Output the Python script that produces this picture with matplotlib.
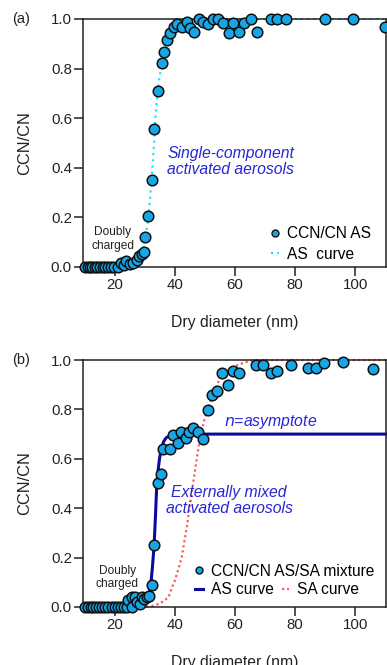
import matplotlib
matplotlib.use('Agg')
import matplotlib.pyplot as plt
from matplotlib.lines import Line2D
import numpy as np

plt.rcParams['font.family'] = ['Liberation Sans', 'DejaVu Sans']

# panel (a): pure AS
a_x = [10.0, 10.8, 11.6, 12.4, 13.2, 14.0, 14.9, 15.8, 16.7, 17.7, 18.7, 19.7,
       20.8, 21.9, 23.0, 23.7, 24.8, 25.9, 27.2, 28.1, 28.9, 29.7, 30.0, 31.1,
       32.2, 33.1, 34.4, 35.6, 36.4, 37.2, 38.3, 39.7, 40.8, 42.2, 43.9, 45.0,
       46.4, 48.0, 49.4, 51.1, 52.6, 54.2, 55.9, 57.9, 59.4, 61.4, 63.1, 65.2,
       67.2, 71.9, 74.1, 76.9, 90.0, 99.4, 110.0]
a_y = [0, 0, 0, 0, 0, 0, 0, 0, 0, 0, 0, 0,
       0.0, 0.016, 0.01, 0.023, 0.012, 0.016, 0.03, 0.043, 0.054, 0.059, 0.12, 0.204,
       0.349, 0.557, 0.711, 0.824, 0.866, 0.915, 0.942, 0.969, 0.98, 0.969, 0.989, 0.962,
       0.949, 1.0, 0.989, 0.98, 1.0, 1.0, 0.985, 0.942, 0.985, 0.949, 0.985, 1.0,
       0.949, 1.0, 1.0, 1.0, 1.0, 1.0, 0.969]

a_fit_x = [10, 20, 26, 27, 28, 29, 29.8, 30.5, 31.1, 31.8, 32.4, 33.0, 33.4, 34.0,
           34.6, 35.3, 35.8, 36.4, 37.0, 37.8, 38.8, 40.0, 41.7, 44, 110.5]
a_fit_y = [0, 0, 0.005, 0.015, 0.03, 0.06, 0.1, 0.15, 0.2, 0.3, 0.4, 0.5, 0.6, 0.68,
           0.75, 0.8, 0.86, 0.9, 0.925, 0.95, 0.97, 0.985, 0.995, 1.0, 1.0]

# panel (b): AS/SA mixture
b_x = [10.0, 10.9, 11.8, 12.7, 13.6, 14.6, 15.6, 16.6, 17.7, 18.8, 19.9, 21.0,
       22.1, 23.0, 23.9, 24.4, 25.6, 25.6, 26.7, 27.2, 28.3, 28.9, 29.7, 30.6,
       31.3, 32.2, 33.1, 34.2, 35.3, 36.1, 38.3, 39.4, 40.9, 42.0, 43.7, 44.8,
       46.1, 47.8, 49.4, 51.1, 52.4, 54.1, 55.6, 57.8, 59.2, 61.4, 67.0, 69.4,
       71.9, 74.1, 78.7, 84.2, 86.9, 89.7, 95.9, 105.9]
b_y = [0, 0, 0, 0, 0, 0, 0, 0, 0, 0, 0, 0,
       0, 0, 0.0, 0.03, 0.04, 0.0, 0.04, 0.02, 0.014, 0.04, 0.034, 0.04,
       0.045, 0.088, 0.25, 0.503, 0.54, 0.639, 0.639, 0.696, 0.662, 0.709, 0.686, 0.709,
       0.726, 0.709, 0.682, 0.797, 0.858, 0.874, 0.949, 0.899, 0.957, 0.949, 0.98, 0.98,
       0.949, 0.957, 0.98, 0.969, 0.969, 0.986, 0.993, 0.962]

as_fit_x = [10, 28, 29, 30, 31, 31.9, 32.5, 33.0, 33.5, 33.9, 34.4, 34.8, 35.3, 35.6,
            36.2, 37.0, 38.3, 40.0, 41.7, 110.5]
as_fit_y = [0, 0, 0.002, 0.008, 0.03, 0.088, 0.17, 0.25, 0.38, 0.5, 0.56, 0.6, 0.635, 0.65,
            0.67, 0.685, 0.694, 0.698, 0.7, 0.7]

sa_fit_x = [10, 30, 32, 34, 36, 37.8, 39, 40, 41, 42.2, 43, 44, 44.8, 46, 47.2, 48,
            49, 50, 51.1, 52, 53, 53.9, 55, 57.2, 60, 63, 66, 70, 110.5]
sa_fit_y = [0, 0, 0.003, 0.01, 0.022, 0.04, 0.08, 0.11, 0.15, 0.2, 0.26, 0.33, 0.4, 0.5,
            0.6, 0.66, 0.72, 0.77, 0.8, 0.84, 0.875, 0.9, 0.925, 0.95, 0.975, 0.99, 0.998,
            1.0, 1.0]

pt_color = '#16A6E8'
cyan = '#00E8F0'
navy = '#0A0A9E'
red = '#FF5A5A'
txt_blue = '#2626D8'

fig = plt.figure(figsize=(3.87, 6.65), dpi=100)
ax1 = fig.add_axes([83 / 387, 1 - 267 / 665, 303 / 387, 248 / 665])
ax2 = fig.add_axes([83 / 387, 1 - 607 / 665, 303 / 387, 247 / 665])

for ax in (ax1, ax2):
    ax.set_xlim(9.3, 110.3)
    ax.set_ylim(0, 1.0)
    ax.set_xticks([20, 40, 60, 80, 100])
    ax.set_yticks([0, 0.2, 0.4, 0.6, 0.8, 1.0])
    ax.set_yticklabels(['0.0', '0.2', '0.4', '0.6', '0.8', '1.0'])
    ax.tick_params(direction='out', length=6.5, width=1.1, pad=1.5, labelsize=10.8,
                   colors='#222222', top=False, right=False)
    for s in ax.spines.values():
        s.set_linewidth(1.1)
        s.set_color('#222222')
    ax.set_xlabel('Dry diameter (nm)', fontsize=11.3, color='#222222')
    ax.set_ylabel('CCN/CN', fontsize=11.8, color='#222222')
    ax.xaxis.set_label_coords(0.5, -(323 - 267) / 248)
    ax.xaxis.label.set_va('center')
    ax.yaxis.set_label_coords(-(83 - 25) / 303, 0.5)
    ax.yaxis.label.set_va('center')

# (a)
ax1.plot(a_fit_x, a_fit_y, ls=(0, (1, 2)), color=cyan, lw=1.5, zorder=2, clip_on=False)
ax1.plot(a_x, a_y, 'o', ms=7.6, mfc=pt_color, mec='#111111', mew=1.1,
         zorder=3, clip_on=False)
ax1.text(58.6, 0.425, 'Single-component\nactivated aerosols', style='italic',
         color=txt_blue, fontsize=11.3, ha='center', va='center', linespacing=1.05)
ax1.text(19.3, 0.113, 'Doubly\ncharged', fontsize=8.6, ha='center', va='center',
         color='#222222', linespacing=1.15)
h_pts = Line2D([], [], ls='none', marker='o', ms=5, mfc=pt_color, mec='#111111', mew=1)
h_as = Line2D([], [], ls=(0, (1, 2)), color=cyan, lw=1.5)
ax1.legend([h_pts, h_as], ['CCN/CN AS', 'AS  curve'], loc='lower left',
           bbox_to_anchor=(0.585, -0.022), frameon=False, fontsize=11.2,
           handlelength=0.5, handletextpad=0.5, labelspacing=0.35, borderpad=0.2)
fig.text(12 / 387, 1 - 19 / 665, '(a)', fontsize=10.5, va='center', color='#222222')

# (b)
ax2.plot(sa_fit_x, sa_fit_y, ls=(0, (1, 1.3)), color=red, lw=1.6, zorder=2,
         clip_on=False)
ax2.plot(as_fit_x, as_fit_y, '-', color=navy, lw=2.2, zorder=2.5, clip_on=False)
ax2.plot(b_x, b_y, 'o', ms=7.6, mfc=pt_color, mec='#111111', mew=1.1,
         zorder=3, clip_on=False)
ax2.text(71.7, 0.75, r'$n$=asymptote', style='italic', color=txt_blue,
         fontsize=11.3, ha='center', va='center')
ax2.text(58.0, 0.43, 'Externally mixed\nactivated aerosols', style='italic',
         color=txt_blue, fontsize=11.3, ha='center', va='center', linespacing=1.05)
ax2.text(20.7, 0.12, 'Doubly\ncharged', fontsize=8.6, ha='center', va='center',
         color='#222222', linespacing=1.15)
h_as2 = Line2D([], [], ls='-', color=navy, lw=2.2)
h_sa = Line2D([], [], ls=(0, (1, 1.3)), color=red, lw=1.6)
leg1 = ax2.legend([h_pts], ['CCN/CN AS/SA mixture'], loc='lower left',
                  bbox_to_anchor=(0.335, 0.07), frameon=False, fontsize=11.2,
                  handlelength=0.5, handletextpad=0.5, borderpad=0.2)
ax2.add_artist(leg1)
ax2.legend([h_as2, h_sa], ['AS curve', 'SA curve'], loc='lower left',
           bbox_to_anchor=(0.335, -0.005), frameon=False, fontsize=11.2, ncol=2,
           handlelength=0.5, handletextpad=0.5, columnspacing=0.5, borderpad=0.2)
fig.text(12 / 387, 1 - 360 / 665, '(b)', fontsize=10.5, va='center', color='#222222')

fig.savefig('out.png', dpi=100)
